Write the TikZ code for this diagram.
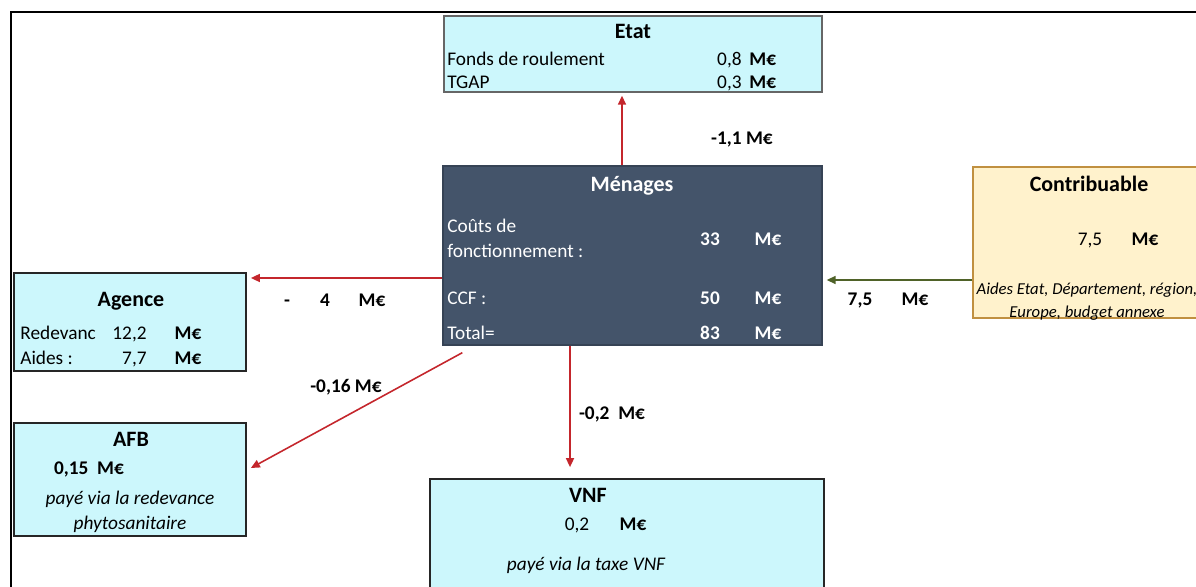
\documentclass[tikz,border=0pt]{standalone}
\usepackage{fontspec}
\setmainfont{Carlito}
\usetikzlibrary{arrows.meta,positioning,calc}
\definecolor{cellcyan}{RGB}{204,247,252}
\definecolor{slate}{RGB}{68,84,106}
\definecolor{cream}{RGB}{255,242,204}
\definecolor{gold}{RGB}{192,144,64}
\definecolor{flowred}{RGB}{196,38,44}
\definecolor{olive}{RGB}{79,98,40}
\newcommand{\xlsize}{\fontsize{11}{13}\selectfont}
\tikzset{
  box/.style={draw=black!85, line width=1pt, fill=cellcyan, inner sep=0pt},
  darkbox/.style={draw=slate!80!black, line width=0.8pt, fill=slate, inner sep=0pt},
  creambox/.style={draw=gold, line width=0.8pt, fill=cream, inner sep=0pt},
  txt/.style={font=\xlsize, inner sep=0pt, text height=9.5pt, text depth=1.2pt},
  title/.style={txt, font=\fontsize{12.5}{14}\selectfont\bfseries},
  val/.style={txt, font=\xlsize\bfseries},
  note/.style={txt, font=\xlsize\itshape},
  smallnote/.style={txt, font=\fontsize{9.5}{11}\selectfont\itshape},
  flow/.style={-{Triangle[length=1.8mm,width=1.6mm]}, line width=0.9pt, draw=flowred},
  gflow/.style={-{Triangle[length=1.8mm,width=1.6mm]}, line width=0.9pt, draw=olive}
}
\begin{document}
\begin{tikzpicture}[x=0.02cm,y=-0.02cm]
  \useasboundingbox (0,0) rectangle (1196,587);
  \clip (0,0) rectangle (1196,587);
  \draw[line width=1.1pt] (1196,12) -- (11,12) -- (11,587);
  % boxes
  \node[box, draw=black!60, line width=0.8pt, minimum width=7.56cm, minimum height=1.52cm] (etat) at (633,54) {};
  \node[darkbox, minimum width=7.58cm, minimum height=3.58cm] (men) at (632.5,255.5) {};
  \node[creambox, minimum width=4.64cm, minimum height=3.02cm] (contrib) at (1089,242.5) {};
  \node[box, minimum width=4.64cm, minimum height=1.96cm] (agence) at (130,322) {};
  \node[box, minimum width=4.64cm, minimum height=2.26cm] (afb) at (130,479.5) {};
  \node[box, minimum width=7.88cm, minimum height=2.32cm] (vnf) at (627,537) {};
  % Etat
  \node[title] (etatT) at (633,31) {Etat};
  \node[txt, anchor=west] (etatFR) at (447,58) {Fonds de roulement};
  \node[txt, anchor=west] (etatTG) at (447,81) {TGAP};
  \node[txt, anchor=east] (etatV1) at (742,58) {0,8};
  \node[val, anchor=west] (etatU1) at (749,58) {M€};
  \node[txt, anchor=east] (etatV2) at (742,81) {0,3};
  \node[val, anchor=west] (etatU2) at (749,81) {M€};
  % Menages
  \node[title, text=white] (menT) at (632,184) {Ménages};
  \node[txt, text=white, anchor=west] (menC1) at (447,225) {Coûts de};
  \node[txt, text=white, anchor=west] (menC2) at (447,250) {fonctionnement :};
  \node[val, text=white] (menV1) at (710,238) {33};
  \node[val, text=white] (menU1) at (768,238) {M€};
  \node[txt, text=white, anchor=west] (menCCF) at (447,297) {CCF :};
  \node[val, text=white] (menV2) at (710,297) {50};
  \node[val, text=white] (menU2) at (768,297) {M€};
  \node[txt, text=white, anchor=west] (menTot) at (447,332) {Total=};
  \node[val, text=white] (menV3) at (710,332) {83};
  \node[val, text=white] (menU3) at (768,332) {M€};
  % Contribuable
  \node[title] (contT) at (1089,184) {Contribuable};
  \node[txt] (contV) at (1090,238) {7,5};
  \node[val] (contU) at (1145,238) {M€};
  \node[smallnote] (contN1) at (1087,287) {Aides Etat, Département, région,};
  \node[smallnote] (contN2) at (1087,310) {Europe, budget annexe};
  % Agence
  \node[title] (agT) at (131,299) {Agence};
  \node[txt, anchor=west] (agR) at (20,332) {Redevanc};
  \node[txt, anchor=east] (agV1) at (147,332) {12,2};
  \node[val] (agU1) at (188,332) {M€};
  \node[txt, anchor=west] (agA) at (20,357) {Aides :};
  \node[txt, anchor=east] (agV2) at (147,357) {7,7};
  \node[val] (agU2) at (188,357) {M€};
  % AFB
  \node[title] (afbT) at (131,439) {AFB};
  \node[val] (afbV) at (89,467) {0,15~~M€};
  \node[note] (afbN1) at (130,497) {payé via la redevance};
  \node[note] (afbN2) at (130,522) {phytosanitaire};
  % VNF
  \node[title] (vnfT) at (588,495) {VNF};
  \node[txt] (vnfV) at (577,523) {0,2};
  \node[val] (vnfU) at (633,523) {M€};
  \node[note] (vnfN) at (586,563) {payé via la taxe VNF};
  % flows
  \draw[flow] ([xshift=-0.21cm]men.north) coordinate (m0) -- ([yshift=-0.06cm]etat.south -| m0);
  \draw[flow] ([yshift=-0.45cm]men.west) coordinate (m1) -- ([xshift=0.08cm]agence.east |- m1);
  \draw[flow] ([shift={(0.4cm,-0.14cm)}]men.south west) -- ([shift={(0.08cm,0.23cm)}]afb.east);
  \draw[flow] ([xshift=-1.25cm]men.south) coordinate (m2) -- ([yshift=0.22cm]vnf.north -| m2);
  \draw[gflow] ([yshift=-0.75cm]contrib.west) coordinate (c1) -- ([xshift=0.08cm]men.east |- c1);
  % flow labels
  \node[val] (lEtat) at (742,137) {-1,1 M€};
  \node[val] (lAg1) at (287,299) {-};
  \node[val] (lAg2) at (325,299) {4};
  \node[val] (lAg3) at (372,299) {M€};
  \node[val] (lAfb) at (346,385) {-0,16 M€};
  \node[val] (lVnf) at (612,412) {-0,2~~M€};
  \node[val] (lCo1) at (860,298) {7,5};
  \node[val] (lCo2) at (915,298) {M€};
\end{tikzpicture}
\end{document}
